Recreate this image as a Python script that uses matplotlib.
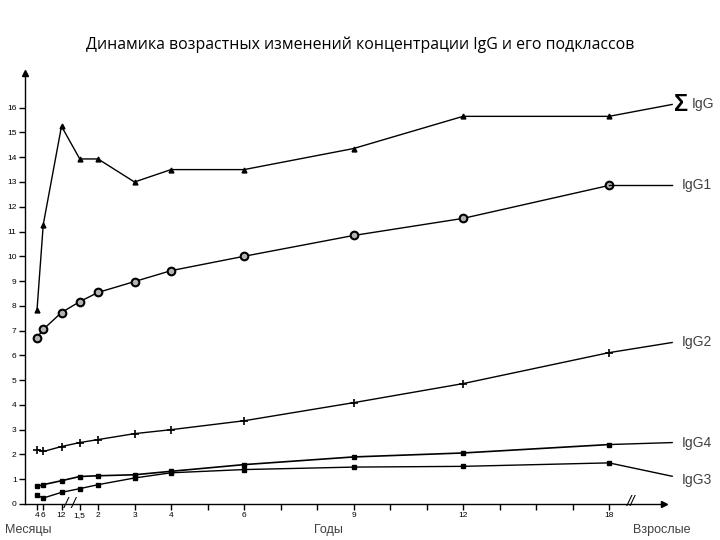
import matplotlib.pyplot as plt

# x positions on the drawn axis (months 4, 6, 12, then years); "18" sits where 16 would be
x_pos = [0.33, 0.5, 1, 1.5, 2, 3, 4, 6, 9, 12, 16]
x_end = 17.73  # adults
tick_pos = [0.33, 0.5, 1, 1.5, 2, 3, 4, 6, 9, 12, 16]
tick_lab = ['4', '6', '12', '1,5', '2', '3', '4', '6', '9', '12', '18']
minor_pos = [5, 7, 8, 10, 11, 13, 14, 15]

igg_sum = [7.85, 11.28, 15.25, 13.93, 13.93, 13.0, 13.5, 13.5, 14.35, 15.65, 15.65, 16.13]
igg1 = [6.72, 7.05, 7.73, 8.17, 8.54, 8.98, 9.42, 10.0, 10.84, 11.53, 12.86, 12.86]
igg2 = [2.19, 2.12, 2.32, 2.48, 2.6, 2.84, 3.0, 3.36, 4.09, 4.86, 6.11, 6.52]
igg4 = [0.71, 0.78, 0.94, 1.11, 1.14, 1.18, 1.32, 1.59, 1.9, 2.06, 2.4, 2.48]
igg3 = [0.35, 0.24, 0.47, 0.62, 0.78, 1.05, 1.26, 1.39, 1.49, 1.52, 1.66, 1.12]

plt.rcParams['font.family'] = ['Liberation Sans', 'DejaVu Sans']

fig = plt.figure(figsize=(7.2, 5.4), dpi=100)
ax = fig.add_axes([25/720, 36/540, 657/720, 431/540])

xs = x_pos + [x_end]
ax.plot(xs[:-1], igg_sum[:-1], color='black', lw=1, marker='^', ms=3.5)
ax.plot(xs[-2:], igg_sum[-2:], color='black', lw=1)
ax.plot(xs[:-1], igg1[:-1], color='black', lw=1, marker='o', ms=5.5, mfc='0.7', mec='black', mew=1.5)
ax.plot(xs[-2:], igg1[-2:], color='black', lw=1)
ax.plot(xs[:-1], igg2[:-1], color='black', lw=1, marker='+', ms=6, mew=1.2)
ax.plot(xs[-2:], igg2[-2:], color='black', lw=1)
ax.plot(xs[:-1], igg4[:-1], color='black', lw=1.2, marker='s', ms=3)
ax.plot(xs[-2:], igg4[-2:], color='black', lw=1)
ax.plot(xs[:-1], igg3[:-1], color='black', lw=1, marker='s', ms=3)
ax.plot(xs[-2:], igg3[-2:], color='black', lw=1)

ax.text(x_end + 0.05, igg_sum[-1], 'Σ', fontsize=17, fontweight='bold', va='center', ha='left')
ax.text(x_end + 0.55, igg_sum[-1], 'IgG', fontsize=10, va='center', ha='left', color='0.25')
for name, ser in [('IgG1', igg1), ('IgG2', igg2), ('IgG4', igg4), ('IgG3', igg3)]:
    dy = -0.15 if name == 'IgG3' else 0
    ax.text(x_end + 0.25, ser[-1] + dy, name, fontsize=10, va='center', ha='left', color='0.25')

ax.set_xlim(0, 18)
ax.set_ylim(0, 17.4)
for s in ['top', 'right']:
    ax.spines[s].set_visible(False)
ax.spines['bottom'].set_bounds(0, 17.5)
ax.spines['left'].set_linewidth(1)
ax.spines['bottom'].set_linewidth(1)
ax.plot([17.5], [0], marker='>', color='black', ms=5, clip_on=False)
ax.plot([0], [17.4], marker='^', color='black', ms=5, clip_on=False)

ax.set_yticks(range(0, 17))
ax.set_yticklabels([str(i) for i in range(0, 17)], fontsize=6)
ax.set_xticks(tick_pos)
ax.set_xticklabels(tick_lab, fontsize=6)
ax.set_xticks(minor_pos, minor=True)
ax.tick_params(axis='both', which='both', length=4, width=1, pad=2)

ax.text(1.25, 0, '/ /', fontsize=11, style='italic', ha='center', va='center')
ax.text(16.6, 0.1, '//', fontsize=11, style='italic', ha='center', va='center')

fig.text(0.5, 0.917, 'Динамика возрастных изменений концентрации IgG и его подклассов',
         fontsize=11.4, ha='center', va='center', family=['Open Sans', 'DejaVu Sans'])
fig.text(28/720, 0.018, 'Месяцы', fontsize=9, ha='center', va='center', color='0.25')
fig.text(328/720, 0.018, 'Годы', fontsize=9, ha='center', va='center', color='0.25')
fig.text(662/720, 0.018, 'Взрослые', fontsize=9, ha='center', va='center', color='0.25')

fig.savefig('out.png', dpi=100)
